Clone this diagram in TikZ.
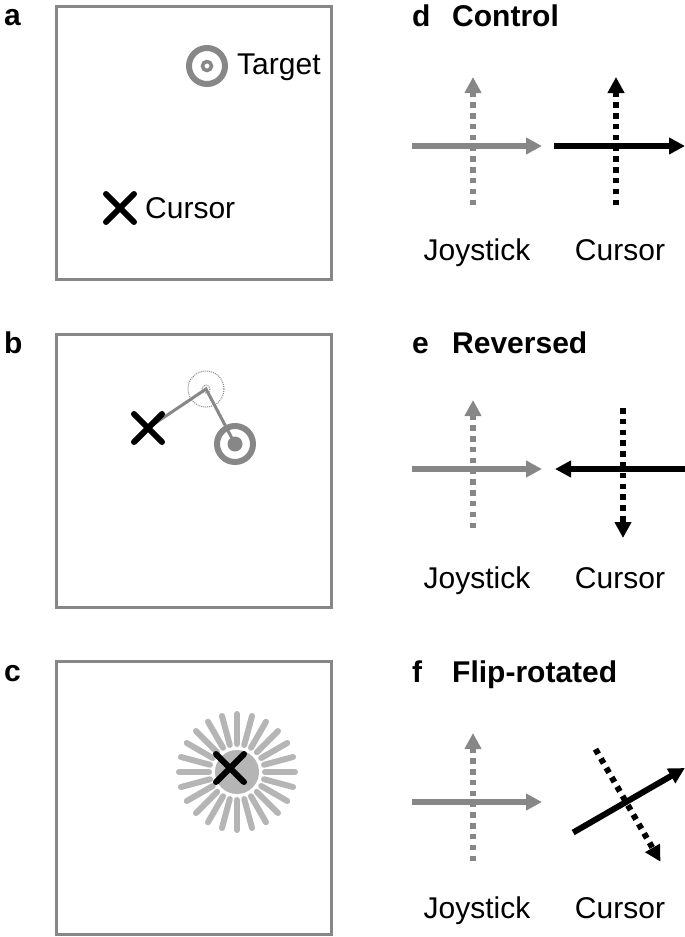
\documentclass[tikz,border=0pt]{standalone}
\usepackage{fontspec}
\setmainfont{Liberation Sans}
\usetikzlibrary{arrows.meta}
\definecolor{midgray}{gray}{0.53}
\definecolor{raygray}{gray}{0.71}
\tikzset{
	txt/.style = {font=\fontsize{30}{36}\selectfont, inner sep=0pt},
	ttl/.style = {font=\fontsize{30}{36}\selectfont\bfseries, inner sep=0pt, anchor=base west},
	frame/.style = {draw=midgray, line width=3pt},
	xmark/.style = {line width=6pt, line cap=round},
	ring/.style = {draw=midgray, line width=6pt},
	joy/.style = {draw=midgray, line width=6pt, -{Triangle[length=16pt,width=16pt]}},
	cur/.style = {draw=black, line width=6pt, -{Triangle[length=16pt,width=16pt]}},
	dots/.style = {dash pattern=on 5.5pt off 5.3pt},
	ray/.style = {draw=raygray, line width=6pt, line cap=round}
}
\newcommand{\crossat}[1]{\draw[xmark, shift={(#1)}] (-14,-14) -- (14,14) (-14,14) -- (14,-14);}
\begin{document}
\begin{tikzpicture}[x = 1pt, y = -1pt]
	\useasboundingbox (0,0) rectangle (685,937);
	% left column: task screens
	\node[ttl] (la) at (4,25) {a};
	\node[ttl] (lb) at (4,353) {b};
	\node[ttl] (lc) at (4,681) {c};
	\draw[frame] (56,6) rectangle (331,279);
	\draw[frame] (56,334) rectangle (331,607);
	\draw[frame] (56,661) rectangle (331,934);
	% a
	\coordinate (tgta) at (207,66);
	\coordinate (cura) at (120,208);
	\draw[ring] (tgta) circle (18);
	\draw[midgray, line width=3.5pt] (tgta) circle (4.5);
	\crossat{cura}
	\node[txt, anchor=base west] (tgtxt) at (237,74) {Target};
	\node[txt, anchor=base west] (curtxt) at (145,218) {Cursor};
	% b
	\coordinate (curb) at (148,428);
	\coordinate (aimb) at (206,389);
	\coordinate (tgtb) at (235,444);
	\draw[midgray, line width=1pt, densely dotted] (aimb) circle (18) (aimb) circle (4);
	\draw[midgray, line width=3pt] (curb) -- (aimb) -- (tgtb); %cursor path
	\draw[ring] (tgtb) circle (18);
	\fill[midgray] (tgtb) circle (7.5);
	\crossat{curb}
	% c
	\coordinate (hitc) at (237,772);
	\coordinate (curc) at (230,768);
	\fill[raygray] (hitc) circle (22);
	\foreach \a in {0,15,...,345}
		\draw[ray, shift={(hitc)}] (\a:28) -- (\a:58);
	\crossat{curc}
	% right column: mappings
	\node[ttl] (ld) at (412,26) {d};
	\node[ttl] (hd) at (452,26) {Control};
	\node[ttl] (le) at (412,353) {e};
	\node[ttl] (he) at (452,353) {Reversed};
	\node[ttl] (lf) at (412,682) {f};
	\node[ttl] (hf) at (452,682) {Flip-rotated};
	\foreach \y in {146,469,802}{
		\draw[joy, dots, shift={(473,\y)}] (0,59) -- (0,-69); %joystick up
		\draw[joy, shift={(473,\y)}] (-61,0) -- (69,0); %joystick right
	}
	\draw[cur, dots, shift={(616,146)}] (0,59) -- (0,-69);
	\draw[cur, shift={(616,146)}] (-62,0) -- (69,0);
	\draw[cur, dots, shift={(623,469)}] (0,-61) -- (0,69);
	\draw[cur, shift={(623,469)}] (62,0) -- (-68,0);
	\draw[cur, dots, shift={(626,802)}, rotate=30] (0,-61) -- (0,69);
	\draw[cur, shift={(626,802)}, rotate=30] (-61,0) -- (68,0);
	\foreach \y/\n in {260/d,588/e,918/f}{
		\node[txt, anchor=base] (joy\n) at (477,\y) {Joystick};
		\node[txt, anchor=base] (cur\n) at (620,\y) {Cursor};
	}
\end{tikzpicture}
\end{document}
